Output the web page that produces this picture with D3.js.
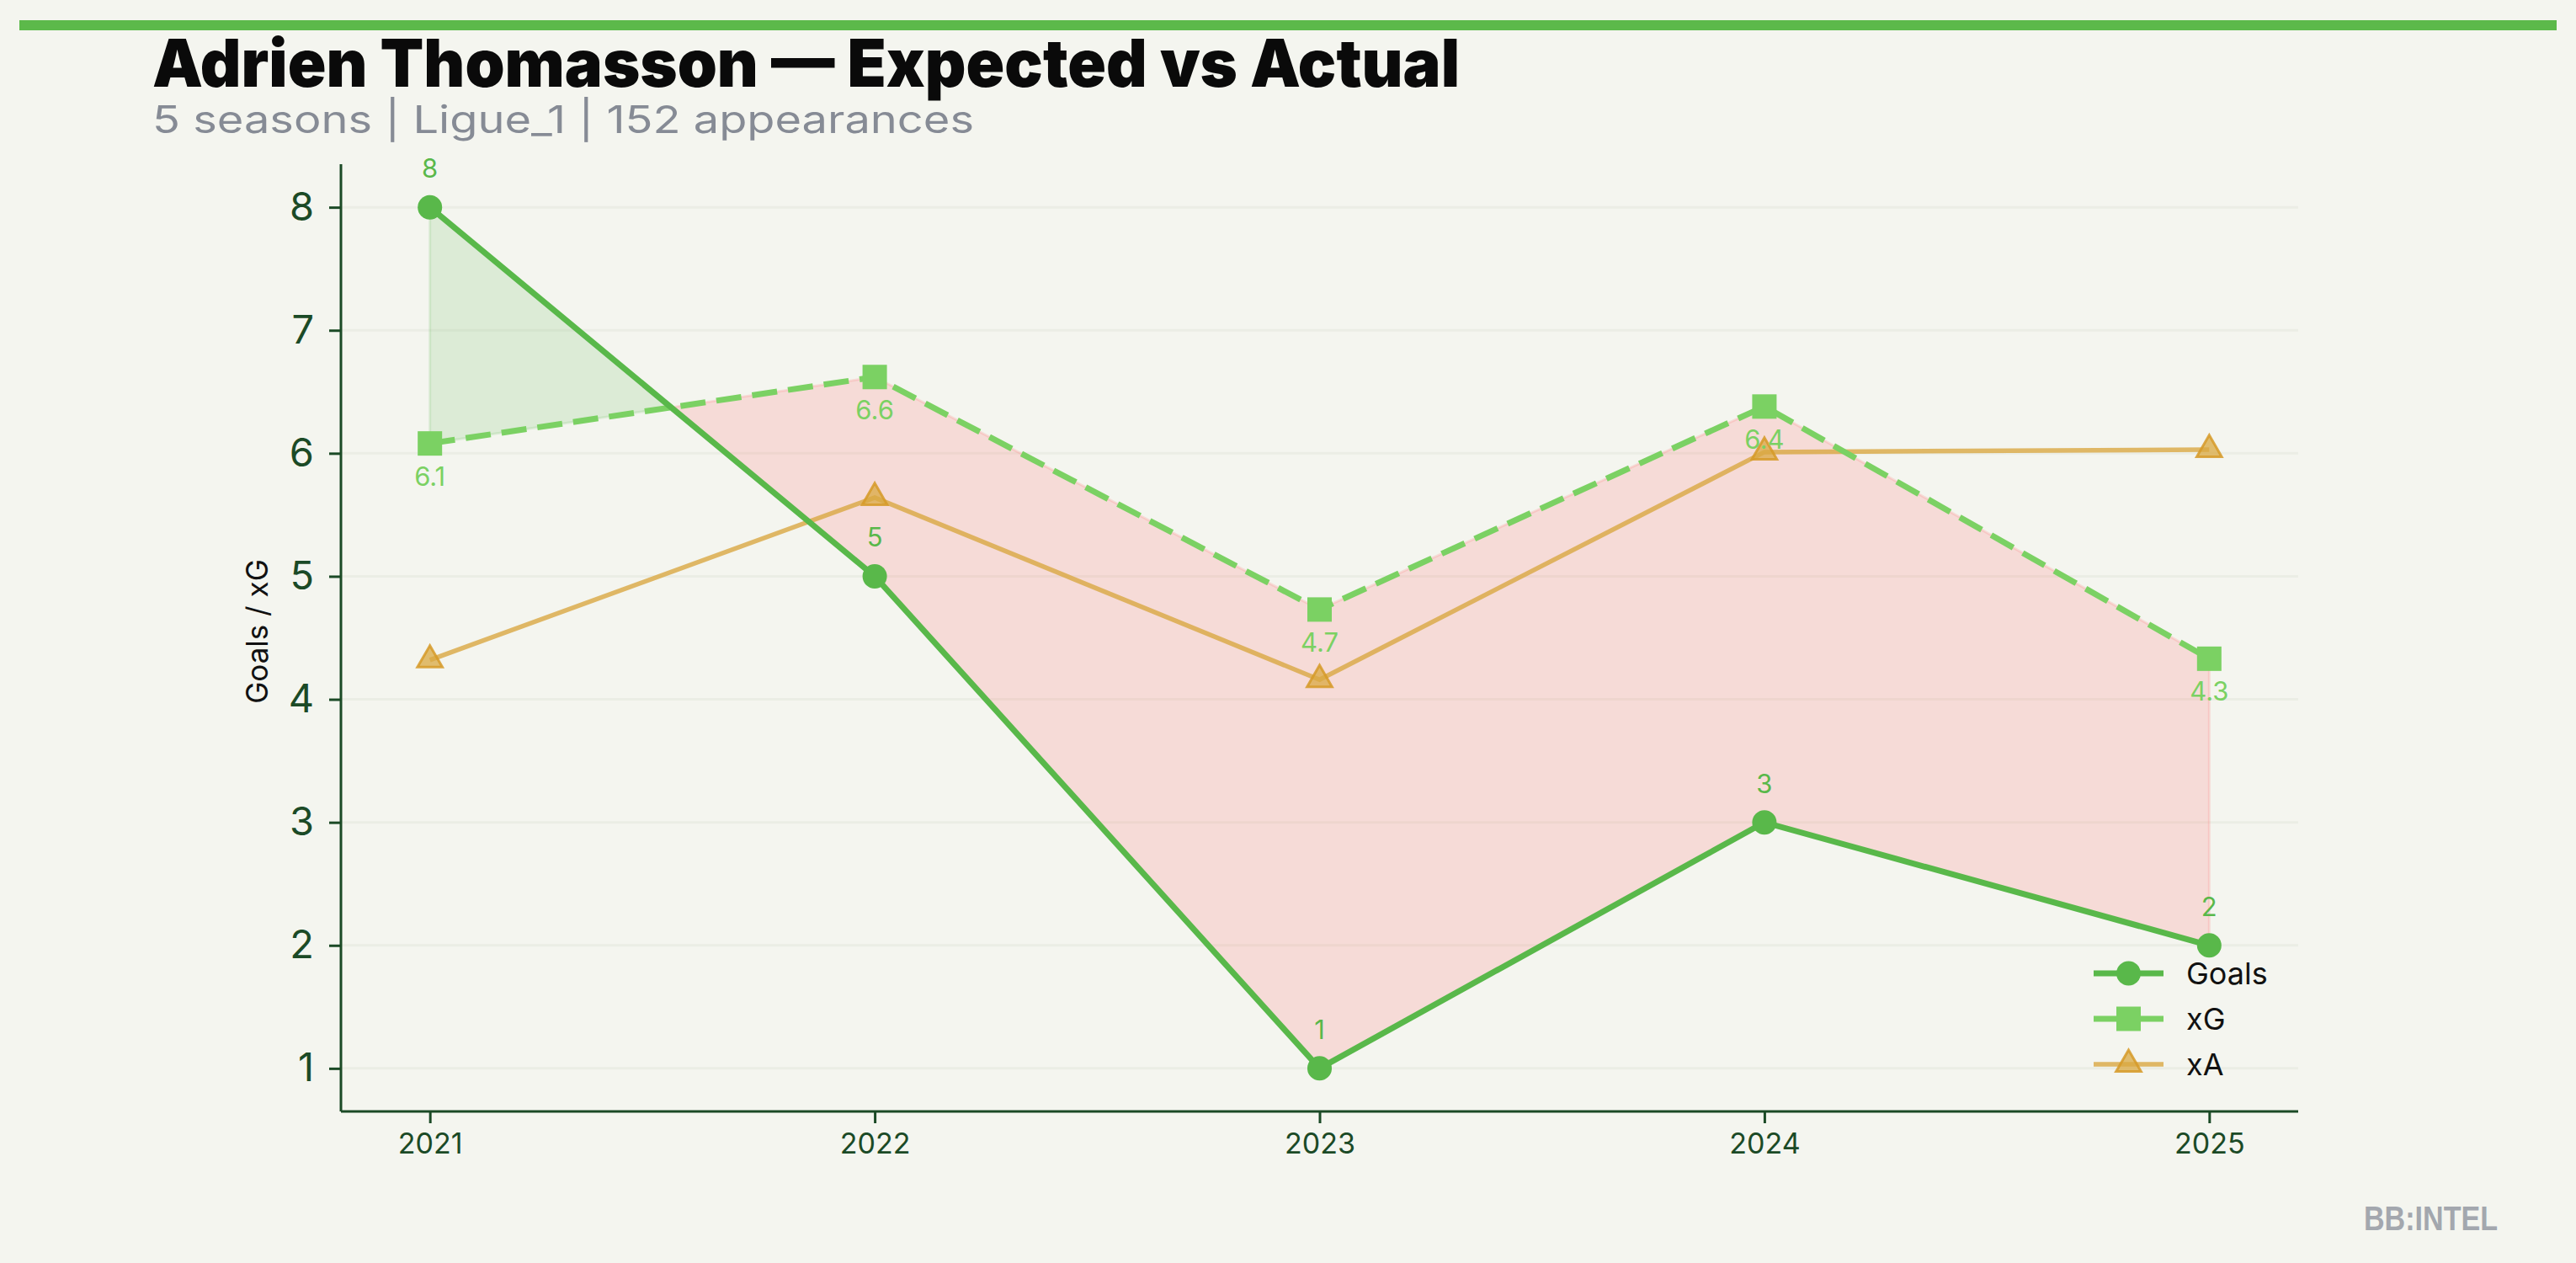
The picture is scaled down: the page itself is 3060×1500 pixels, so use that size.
<!DOCTYPE html>
<html>
<head>
<meta charset="utf-8">
<script src="https://cdn.jsdelivr.net/npm/d3@7.9.0/dist/d3.min.js"></script>
<style>
  html, body { margin: 0; padding: 0; background: #f4f5ef; }
  svg { display: block; }
</style>
</head>
<body>
<svg id="chart" width="3060" height="1500"></svg>
<script>
// ---- data ----
const seasons = [2021, 2022, 2023, 2024, 2025];
const goals   = [8, 5, 1, 3, 2];
const xg      = [6.08, 6.62, 4.73, 6.38, 4.33];
const xa      = [4.32, 5.64, 4.16, 6.01, 6.03];
const yTicks  = [1, 2, 3, 4, 5, 6, 7, 8];
const seriesNames = ["Goals", "xG", "xA"];

const titleText = "Adrien Thomasson \u2014 Expected vs Actual";
const subtitleText = "5 seasons | Ligue_1 | 152 appearances";

// ---- colours ----
const bg = "#f4f5ef";
const cGoals = "#59b84a";
const cXg = "#7bd163";
const cXa = "#d9a842";
const axisCol = "#1b4a26";

const svg = d3.select("#chart");
svg.append("rect").attr("width", 3060).attr("height", 1500).attr("fill", bg);

// top accent bar
svg.append("rect").attr("x", 23).attr("y", 24).attr("width", 3014).attr("height", 12).attr("fill", "#5cb94a");

// title + subtitle
svg.append("text")
  .attr("x", 181).attr("y", 103)
  .attr("font-family", "Inter, 'Noto Sans', sans-serif")
  .attr("font-weight", 900)
  .attr("font-size", 78)
  .attr("fill", "#0a0a0a")
  .attr("textLength", 1553)
  .attr("lengthAdjust", "spacingAndGlyphs")
  .text(titleText);

svg.append("text")
  .attr("x", 181).attr("y", 158)
  .attr("font-family", "Inter, 'Noto Sans', sans-serif")
  .attr("font-size", 45)
  .attr("fill", "#868b95")
  .attr("textLength", 976)
  .attr("lengthAdjust", "spacingAndGlyphs")
  .text(subtitleText);

// ---- scales ----
const x = d3.scaleLinear().domain([2020.8, 2025.2]).range([405, 2730]);
const y = d3.scaleLinear().domain([0.65, 8.35]).range([1320, 195]);

// grid
svg.append("g").selectAll("line")
  .data(yTicks)
  .join("line")
  .attr("x1", 405).attr("x2", 2730)
  .attr("y1", d => y(d)).attr("y2", d => y(d))
  .attr("stroke", "#ebede5")
  .attr("stroke-width", 3);

// ---- fill between goals and xG (with crossing points) ----
let pts = [];
for (let i = 0; i < seasons.length; i++) {
  pts.push({ s: seasons[i], g: goals[i], e: xg[i] });
  if (i < seasons.length - 1) {
    const d0 = goals[i] - xg[i], d1 = goals[i + 1] - xg[i + 1];
    if (d0 * d1 < 0) {
      const t = d0 / (d0 - d1);
      const s = seasons[i] + t * (seasons[i + 1] - seasons[i]);
      const v = goals[i] + t * (goals[i + 1] - goals[i]);
      pts.push({ s: s, g: v, e: v });
    }
  }
}

const area = d3.area().x(d => x(d.s)).y0(d => y(d.e)).y1(d => y(d.g));

svg.append("path")
  .attr("d", area.defined(d => d.g >= d.e)(pts))
  .attr("fill", cGoals).attr("fill-opacity", 0.15)
  .attr("stroke", cGoals).attr("stroke-opacity", 0.15).attr("stroke-width", 3);

svg.append("path")
  .attr("d", area.defined(d => d.g <= d.e)(pts))
  .attr("fill", "#ff6b6b").attr("fill-opacity", 0.18)
  .attr("stroke", "#ff6b6b").attr("stroke-opacity", 0.18).attr("stroke-width", 3);

// ---- axes ----
const yAxis = d3.axisLeft(y).tickValues(yTicks).tickSize(14).tickPadding(18).tickFormat(d3.format("d"));
const gy = svg.append("g").attr("transform", "translate(405,0)").call(yAxis);
gy.select(".domain").attr("d", "M0,195V1320").attr("stroke", axisCol).attr("stroke-width", 3);
gy.selectAll(".tick line").attr("stroke", axisCol).attr("stroke-width", 3);
gy.selectAll(".tick text")
  .attr("fill", axisCol).attr("font-size", 47)
  .attr("font-family", "Inter, 'Noto Sans', sans-serif");

const xAxis = d3.axisBottom(x).tickValues(seasons).tickSize(14).tickPadding(12).tickFormat(d3.format("d"));
const gx = svg.append("g").attr("transform", "translate(0,1320)").call(xAxis);
gx.select(".domain").attr("d", "M405,0H2730").attr("stroke", axisCol).attr("stroke-width", 3);
gx.selectAll(".tick line").attr("stroke", axisCol).attr("stroke-width", 3);
gx.selectAll(".tick text")
  .attr("fill", axisCol).attr("font-size", 34)
  .attr("font-family", "Inter, 'Noto Sans', sans-serif");

// y label
svg.append("text")
  .attr("transform", "translate(318,750) rotate(-90)")
  .attr("text-anchor", "middle")
  .attr("font-family", "Inter, 'Noto Sans', sans-serif")
  .attr("font-size", 35)
  .attr("fill", "#111")
  .text("Goals / xG");

// ---- lines ----
const line = (vals) => d3.line().x((d, i) => x(seasons[i])).y(d => y(d))(vals);

svg.append("path").attr("d", line(xa))
  .attr("fill", "none").attr("stroke", cXa).attr("stroke-opacity", 0.8).attr("stroke-width", 5.5);

svg.append("path").attr("d", line(xg))
  .attr("fill", "none").attr("stroke", cXg).attr("stroke-width", 7)
  .attr("stroke-dasharray", "30 13");

svg.append("path").attr("d", line(goals))
  .attr("fill", "none").attr("stroke", cGoals).attr("stroke-width", 7);

// ---- markers ----
const triangle = d3.symbol().type(d3.symbolTriangle).size(380);

function triMarker(g) {
  g.attr("d", triangle)
    .attr("fill", cXa).attr("fill-opacity", 0.75)
    .attr("stroke", "#d69a28").attr("stroke-opacity", 0.85).attr("stroke-width", 3);
}

svg.append("g").selectAll("path")
  .data(xa)
  .join("path")
  .attr("transform", (d, i) => `translate(${x(seasons[i])},${y(d)})`)
  .call(triMarker);

svg.append("g").selectAll("rect")
  .data(xg)
  .join("rect")
  .attr("x", (d, i) => x(seasons[i]) - 14.5)
  .attr("y", d => y(d) - 14.5)
  .attr("width", 29).attr("height", 29)
  .attr("fill", cXg);

svg.append("g").selectAll("circle")
  .data(goals)
  .join("circle")
  .attr("cx", (d, i) => x(seasons[i]))
  .attr("cy", d => y(d))
  .attr("r", 14.5)
  .attr("fill", cGoals);

// ---- value labels ----
svg.append("g").selectAll("text")
  .data(goals)
  .join("text")
  .attr("x", (d, i) => x(seasons[i]))
  .attr("y", d => y(d) - 35)
  .attr("text-anchor", "middle")
  .attr("font-family", "Inter, 'Noto Sans', sans-serif")
  .attr("font-size", 31)
  .attr("fill", cGoals)
  .text(d => d3.format("d")(d));

svg.append("g").selectAll("text")
  .data(xg)
  .join("text")
  .attr("x", (d, i) => x(seasons[i]))
  .attr("y", d => y(d) + 50)
  .attr("text-anchor", "middle")
  .attr("font-family", "Inter, 'Noto Sans', sans-serif")
  .attr("font-size", 31)
  .attr("fill", cXg)
  .text(d => d3.format(".1f")(d));

// ---- legend ----
const legend = svg.append("g").attr("transform", "translate(2487,1156)");
const rows = legend.selectAll("g")
  .data(seriesNames)
  .join("g")
  .attr("transform", (d, i) => `translate(0,${i * 54})`);

rows.append("line")
  .attr("x1", 0).attr("x2", 83).attr("y1", 0).attr("y2", 0)
  .attr("stroke", (d, i) => [cGoals, cXg, cXa][i])
  .attr("stroke-opacity", (d, i) => i === 2 ? 0.8 : 1)
  .attr("stroke-width", (d, i) => [7, 7, 5.5][i]);

rows.filter((d, i) => i === 0).append("circle")
  .attr("cx", 41.5).attr("cy", 0).attr("r", 14.5).attr("fill", cGoals);
rows.filter((d, i) => i === 1).append("rect")
  .attr("x", 41.5 - 14.5).attr("y", -14.5).attr("width", 29).attr("height", 29).attr("fill", cXg);
rows.filter((d, i) => i === 2).append("path")
  .attr("transform", "translate(41.5,0)")
  .call(triMarker);

rows.append("text")
  .attr("x", 110).attr("y", 0).attr("dy", "0.36em")
  .attr("font-family", "Inter, 'Noto Sans', sans-serif")
  .attr("font-size", 36)
  .attr("fill", "#111")
  .text(d => d);

// watermark
svg.append("text")
  .attr("x", 2808).attr("y", 1461)
  .attr("font-family", "'Liberation Sans Narrow', 'Liberation Sans', sans-serif")
  .attr("font-weight", 700)
  .attr("font-size", 40)
  .attr("fill", "#a3a7ae")
  .attr("textLength", 159)
  .attr("lengthAdjust", "spacingAndGlyphs")
  .text("BB:INTEL");
</script>
</body>
</html>
